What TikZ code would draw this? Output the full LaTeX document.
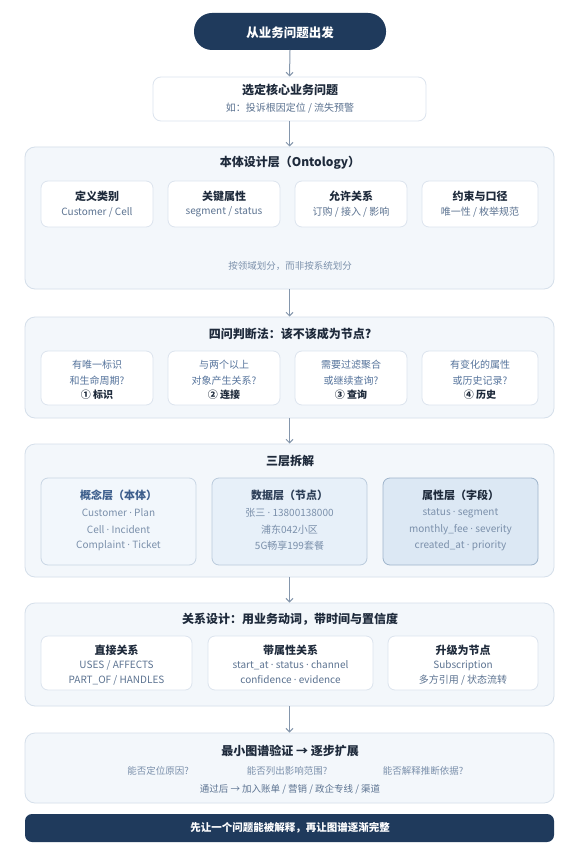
\documentclass[tikz,border=0pt]{standalone}
\usepackage{fontspec}
\setmainfont{Noto Sans CJK SC}
\newfontfamily\latinf{Noto Sans}
\newcommand\md{\space{\latinf ·}\space}
\usetikzlibrary{arrows.meta}
\definecolor{navy}{HTML}{1F3A5C}
\definecolor{secfill}{HTML}{F3F7FB}
\definecolor{secdraw}{HTML}{D5DFEA}
\definecolor{cardraw}{HTML}{DCE4EE}
\definecolor{titlec}{HTML}{1E2A3B}
\definecolor{subc}{HTML}{5C7391}
\definecolor{qc}{HTML}{56749C}
\definecolor{lightc}{HTML}{7B90AB}
\definecolor{arrowc}{HTML}{8496AC}
\definecolor{cfillA}{HTML}{F2F7FC}
\definecolor{cdrawA}{HTML}{C9D6E4}
\definecolor{ctitleA}{HTML}{3D5E8C}
\definecolor{cfillB}{HTML}{E7F0F9}
\definecolor{cdrawB}{HTML}{BACBDC}
\definecolor{ctitleB}{HTML}{2C3E57}
\definecolor{cfillC}{HTML}{DCE8F4}
\definecolor{cdrawC}{HTML}{9EB4CB}
\newcommand\mkbox[6]{\node[#2, minimum width={#5-#3}, minimum height={#6-#4}] (#1) at ({(#3+#5)/2},{(#4+#6)/2}) {};}
\tikzset{
  base/.style={inner sep=0pt, outer sep=0pt},
  pill/.style={base, fill=navy, rounded corners=18pt},
  banner/.style={base, fill=navy, rounded corners=7pt},
  topcard/.style={base, fill=white, draw=cardraw, line width=0.8pt, rounded corners=8pt},
  section/.style={base, fill=secfill, draw=secdraw, line width=0.8pt, rounded corners=10pt},
  card/.style={base, fill=white, draw=cardraw, line width=0.8pt, rounded corners=7pt},
  cardA/.style={base, fill=cfillA, draw=cdrawA, line width=0.8pt, rounded corners=7pt},
  cardB/.style={base, fill=cfillB, draw=cdrawB, line width=0.8pt, rounded corners=7pt},
  cardC/.style={base, fill=cfillC, draw=cdrawC, line width=0.8pt, rounded corners=7pt},
  txt/.style={inner sep=0pt, anchor=center},
  whitetitle/.style={txt, text=white, font=\bfseries\fontsize{12.5}{14}\selectfont},
  sectitle/.style={txt, text=titlec, font=\bfseries\fontsize{12}{14}\selectfont},
  cardtitle/.style={txt, text=titlec, font=\bfseries\fontsize{11}{13}\selectfont},
  subtxt/.style={txt, text=subc, font=\fontsize{10}{12}\selectfont},
  q/.style={txt, text=qc, font=\fontsize{10}{12}\selectfont},
  qtag/.style={txt, text=titlec, font=\bfseries\fontsize{10}{12}\selectfont},
  lighttxt/.style={txt, text=lightc, font=\fontsize{9.5}{11}\selectfont},
  flow/.style={draw=arrowc, line width=1pt, -{Straight Barb[length=3.5pt,width=7pt,line width=1pt]}, shorten >=0.5pt}
}
\begin{document}
\begin{tikzpicture}[x=1pt,y=-1pt]
\fill[white] (0,0) rectangle (581,845);
\useasboundingbox (0,0) rectangle (581,845);

% top pill
\mkbox{start}{pill}{194}{13}{386}{50}
\node[whitetitle] (startT) at (290,33) {从业务问题出发};

% core question
\mkbox{core}{topcard}{153}{77}{426}{121}
\node[sectitle] (coreT) at (290,90) {选定核心业务问题};
\node[subtxt] (coreS) at (290,108) {如：投诉根因定位 / 流失预警};

% Section 1
\mkbox{s1}{section}{25}{147}{554}{289}
\node[sectitle] (s1T) at (290,163) {本体设计层（Ontology）};
\mkbox{a1}{card}{41}{181}{153}{227}
\mkbox{a2}{card}{168}{181}{280}{227}
\mkbox{a3}{card}{295}{181}{407}{227}
\mkbox{a4}{card}{422}{181}{538}{227}
\node[cardtitle] (a1T) at (a1.center|-0,196) {定义类别};
\node[subtxt] (a1S) at (a1.center|-0,212) {Customer / Cell};
\node[cardtitle] (a2T) at (a2.center|-0,196) {关键属性};
\node[subtxt] (a2S) at (a2.center|-0,212) {segment / status};
\node[cardtitle] (a3T) at (a3.center|-0,196) {允许关系};
\node[subtxt] (a3S) at (a3.center|-0,212) {订购 / 接入 / 影响};
\node[cardtitle] (a4T) at (a4.center|-0,196) {约束与口径};
\node[subtxt] (a4S) at (a4.center|-0,212) {唯一性 / 枚举规范};
\node[lighttxt] (s1C) at (290,266) {按领域划分，而非按系统划分};

% Section 2
\mkbox{s2}{section}{25}{317}{554}{418}
\node[sectitle] (s2T) at (290,334) {四问判断法：该不该成为节点?};
\mkbox{b1}{card}{41}{351}{153}{405}
\mkbox{b2}{card}{168}{351}{280}{405}
\mkbox{b3}{card}{295}{351}{407}{405}
\mkbox{b4}{card}{422}{351}{538}{405}
\node[q] (b1a) at (b1.center|-0,365) {有唯一标识};
\node[q] (b1b) at (b1.center|-0,380.5) {和生命周期?};
\node[qtag] (b1c) at (b1.center|-0,395) {① 标识};
\node[q] (b2a) at (b2.center|-0,365) {与两个以上};
\node[q] (b2b) at (b2.center|-0,380.5) {对象产生关系?};
\node[qtag] (b2c) at (b2.center|-0,395) {② 连接};
\node[q] (b3a) at (b3.center|-0,365) {需要过滤聚合};
\node[q] (b3b) at (b3.center|-0,380.5) {或继续查询?};
\node[qtag] (b3c) at (b3.center|-0,395) {③ 查询};
\node[q] (b4a) at (b4.center|-0,365) {有变化的属性};
\node[q] (b4b) at (b4.center|-0,380.5) {或历史记录?};
\node[qtag] (b4c) at (b4.center|-0,395) {④ 历史};

% Section 3
\mkbox{s3}{section}{25}{444}{554}{577}
\node[sectitle] (s3T) at (290,461) {三层拆解};
\mkbox{c1}{cardA}{41}{478}{196}{565}
\mkbox{c2}{cardB}{212}{478}{367}{565}
\mkbox{c3}{cardC}{383}{478}{538}{565}
\node[cardtitle, text=ctitleA] (c1T) at (c1.center|-0,495) {概念层（本体）};
\node[subtxt, text=lightc] (c1a) at (c1.center|-0,513) {Customer\md Plan};
\node[subtxt, text=lightc] (c1b) at (c1.center|-0,529.5) {Cell\md Incident};
\node[subtxt, text=lightc] (c1c) at (c1.center|-0,546) {Complaint\md Ticket};
\node[cardtitle, text=ctitleB] (c2T) at (c2.center|-0,495) {数据层（节点）};
\node[subtxt, text=lightc] (c2a) at (c2.center|-0,513) {张三\md 13800138000};
\node[subtxt, text=lightc] (c2b) at (c2.center|-0,529.5) {浦东042小区};
\node[subtxt, text=lightc] (c2c) at (c2.center|-0,546) {5G畅享199套餐};
\node[cardtitle] (c3T) at (c3.center|-0,495) {属性层（字段）};
\node[subtxt, text=lightc] (c3a) at (c3.center|-0,513) {status\md segment};
\node[subtxt, text=lightc] (c3b) at (c3.center|-0,529.5) {monthly\_fee\md severity};
\node[subtxt, text=lightc] (c3c) at (c3.center|-0,546) {created\_at\md priority};

% Section 4
\mkbox{s4}{section}{25}{603}{554}{706}
\node[sectitle] (s4T) at (290,619) {关系设计：用业务动词，带时间与置信度};
\mkbox{d1}{card}{41}{636}{192}{690}
\mkbox{d2}{card}{208}{636}{373}{690}
\mkbox{d3}{card}{388}{636}{538}{690}
\node[cardtitle] (d1T) at (d1.center|-0,650) {直接关系};
\node[subtxt] (d1a) at (d1.center|-0,665.5) {USES / AFFECTS};
\node[subtxt] (d1b) at (d1.center|-0,680) {PART\_OF / HANDLES};
\node[cardtitle] (d2T) at (d2.center|-0,650) {带属性关系};
\node[subtxt] (d2a) at (d2.center|-0,665.5) {start\_at\md status\md channel};
\node[subtxt] (d2b) at (d2.center|-0,680) {confidence\md evidence};
\node[cardtitle] (d3T) at (d3.center|-0,650) {升级为节点};
\node[subtxt] (d3a) at (d3.center|-0,665.5) {Subscription};
\node[subtxt] (d3b) at (d3.center|-0,680) {多方引用 / 状态流转};

% Section 5
\mkbox{s5}{section}{25}{733}{554}{803}
\node[sectitle] (s5T) at (290,751) {最小图谱验证 → 逐步扩展};
\node[lighttxt] (e1) at (158,771) {能否定位原因?};
\node[lighttxt] (e2) at (287,771) {能否列出影响范围?};
\node[lighttxt] (e3) at (423,771) {能否解释推断依据?};
\node[lighttxt, text=subc] (e4) at (290,789) {通过后 → 加入账单 / 营销 / 政企专线 / 渠道};

% banner
\mkbox{fin}{banner}{25}{814}{554}{842}
\node[txt, text=white, font=\bfseries\fontsize{10.5}{12}\selectfont] (finT) at (290,828) {先让一个问题能被解释，再让图谱逐渐完整};

% connectors
\draw[flow] (start.south) -- (core.north);
\draw[flow] (core.south) -- (s1.north);
\draw[flow] (s1.south) -- (s2.north);
\draw[flow] (s2.south) -- (s3.north);
\draw[flow] (s3.south) -- (s4.north);
\draw[flow] (s4.south) -- (s5.north);
\end{tikzpicture}
\end{document}
